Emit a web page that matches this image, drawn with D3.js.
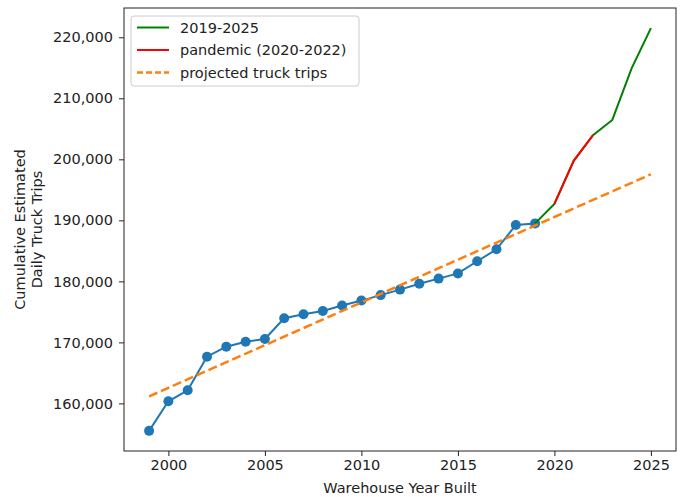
<!DOCTYPE html>
<html>
<head>
<meta charset="utf-8">
<script src="https://cdn.jsdelivr.net/npm/d3@7"></script>
<style>
  html, body { margin: 0; padding: 0; background: #fff; }
  svg { display: block; font-family: "DejaVu Sans", sans-serif; }
</style>
</head>
<body>
<svg id="chart" width="682" height="497"></svg>
<script>
// Cumulative estimated daily truck trips by warehouse year built
const years = [1999, 2000, 2001, 2002, 2003, 2004, 2005, 2006, 2007, 2008, 2009,
               2010, 2011, 2012, 2013, 2014, 2015, 2016, 2017, 2018, 2019];
const trips = [155500, 160350, 162150, 167650, 169300, 170100, 170550, 173950, 174600,
               175150, 176050, 176850, 177750, 178650, 179600, 180450, 181300, 183300,
               185250, 189250, 189500];

// 2019-2025 continuation
const recentYears = [2019, 2020, 2021, 2022, 2023, 2024, 2025];
const recentTrips = [189500, 192700, 199750, 203950, 206450, 214900, 221500];

// Pandemic segment
const pandemicYears = [2020, 2021, 2022];
const pandemicTrips = [192700, 199750, 203950];

// Projected trend line endpoints
const projectedYears = [1999, 2025];
const projectedTrips = [161150, 197550];

const xTicks = [2000, 2005, 2010, 2015, 2020, 2025];
const yTicks = [160000, 170000, 180000, 190000, 200000, 210000, 220000];

const legendLabels = ["2019-2025", "pandemic (2020-2022)", "projected truck trips"];

const svg = d3.select("#chart");
const margin = { left: 124, right: 6, top: 8, bottom: 46 };
const W = 682, H = 497;
const iw = W - margin.left - margin.right;
const ih = H - margin.top - margin.bottom;

const g = svg.append("g").attr("transform", `translate(${margin.left},${margin.top})`);

const xAll = years.concat(recentYears);
const yAll = trips.concat(recentTrips);
const xMin = d3.min(xAll), xMax = d3.max(xAll);
const yMin = d3.min(yAll), yMax = d3.max(yAll);
const xPad = (xMax - xMin) * 0.05, yPad = (yMax - yMin) * 0.05;

const x = d3.scaleLinear().domain([xMin - xPad, xMax + xPad]).range([0, iw]);
const y = d3.scaleLinear().domain([yMin - yPad, yMax + yPad]).range([ih, 0]);

const textColor = "#222";
const fontSize = 14.5;

// Axes
const xAxis = g.append("g").attr("transform", `translate(0,${ih})`)
  .call(d3.axisBottom(x).tickValues(xTicks).tickFormat(d3.format("d")).tickSize(5).tickPadding(4));
const yAxis = g.append("g")
  .call(d3.axisLeft(y).tickValues(yTicks).tickFormat(d3.format(",")).tickSize(5).tickPadding(6));

[xAxis, yAxis].forEach(a => {
  a.select(".domain").remove();
  a.selectAll("line").attr("stroke", textColor).attr("stroke-width", 1);
  a.selectAll("text").attr("fill", textColor).attr("font-size", fontSize)
    .attr("font-family", "DejaVu Sans, sans-serif");
});

// Line generator
const line = d3.line().x(d => x(d[0])).y(d => y(d[1]));
const pairs = (xs, ys) => xs.map((v, i) => [v, ys[i]]);

// Historical series with markers
g.append("path").datum(pairs(years, trips))
  .attr("d", line).attr("fill", "none").attr("stroke", "#1f77b4").attr("stroke-width", 2);
g.selectAll("circle.pt").data(pairs(years, trips)).enter().append("circle")
  .attr("class", "pt")
  .attr("cx", d => x(d[0])).attr("cy", d => y(d[1])).attr("r", 5)
  .attr("fill", "#1f77b4");

// 2019-2025
g.append("path").datum(pairs(recentYears, recentTrips))
  .attr("d", line).attr("fill", "none").attr("stroke", "#008000").attr("stroke-width", 2);

// Pandemic
g.append("path").datum(pairs(pandemicYears, pandemicTrips))
  .attr("d", line).attr("fill", "none").attr("stroke", "#ff0000").attr("stroke-width", 2);

// Projection
g.append("path").datum(pairs(projectedYears, projectedTrips))
  .attr("d", line).attr("fill", "none").attr("stroke", "#ff7f0e")
  .attr("stroke-width", 2.5).attr("stroke-dasharray", "9,4");

// Frame
g.append("rect").attr("x", 0).attr("y", 0).attr("width", iw).attr("height", ih)
  .attr("fill", "none").attr("stroke", textColor).attr("stroke-width", 1);

// Legend
const legend = g.append("g").attr("transform", "translate(7,8)");
legend.append("rect").attr("x", 0).attr("y", 0).attr("width", 228).attr("height", 70)
  .attr("rx", 3).attr("fill", "#fff").attr("fill-opacity", 0.8)
  .attr("stroke", "#cccccc").attr("stroke-width", 1);
const legendStyles = [
  { color: "#008000", dash: null, width: 2 },
  { color: "#ff0000", dash: null, width: 2 },
  { color: "#ff7f0e", dash: "6,3", width: 2.5 }
];
legendLabels.forEach((lab, i) => {
  const row = legend.append("g").attr("transform", `translate(0,${11.5 + i * 22.5})`);
  const s = legendStyles[i];
  row.append("line").attr("x1", 6).attr("x2", 38).attr("y1", 0).attr("y2", 0)
    .attr("stroke", s.color).attr("stroke-width", s.width)
    .attr("stroke-dasharray", s.dash);
  row.append("text").attr("x", 49).attr("y", 0).attr("dy", "0.35em")
    .attr("font-size", fontSize).attr("fill", textColor).text(lab);
});

// Axis titles
svg.append("text").attr("x", margin.left + iw / 2).attr("y", 493)
  .attr("text-anchor", "middle").attr("font-size", fontSize).attr("fill", textColor)
  .text("Warehouse Year Built");

const yTitle = svg.append("text")
  .attr("transform", `translate(25,${margin.top + ih / 2}) rotate(-90)`)
  .attr("text-anchor", "middle").attr("font-size", fontSize).attr("fill", textColor);
yTitle.append("tspan").attr("x", 0).attr("dy", 0).text("Cumulative Estimated");
yTitle.append("tspan").attr("x", 0).attr("dy", "1.2em").text("Daily Truck Trips");
</script>
</body>
</html>
